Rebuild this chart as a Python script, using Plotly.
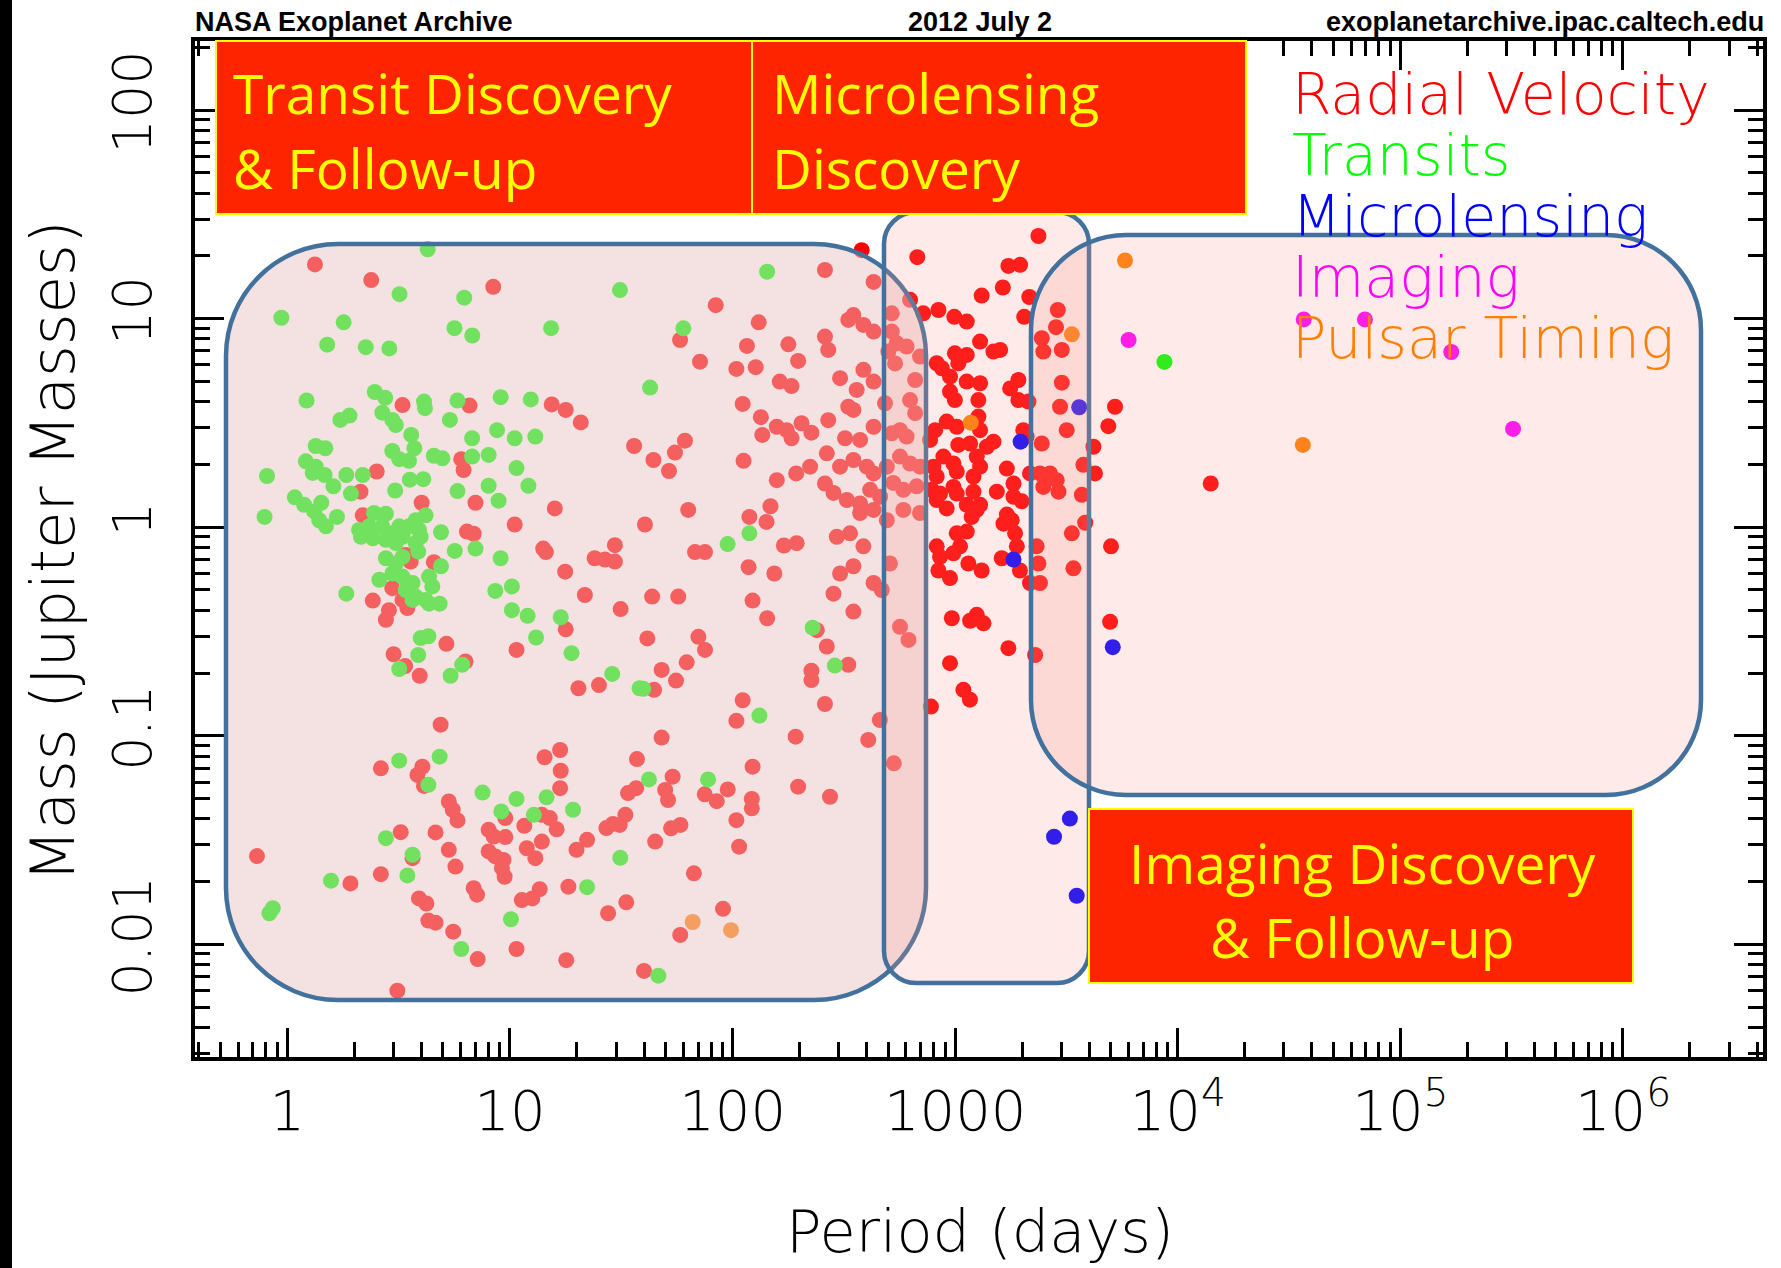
import plotly.graph_objects as go

# Exoplanet mass vs. orbital period by discovery method
# (period in days, mass in Jupiter masses)
rv_points = [
    (1.33, 18.2), (2.38, 15.3), (8.41, 14.2),
    (3.29, 3.85), (6.58, 3.83), (15.4, 3.88), (17.8, 3.65), (20.8, 3.18), (6.04, 2.12), (6.19, 1.88),
    (2.52, 1.85), (2.13, 1.48), (4.01, 1.31), (7.0, 1.31), (15.9, 1.23), (10.5, 1.03), (2.18, 1.14),
    (6.41, 0.953), (6.87, 0.93), (14.1, 0.79), (14.5, 0.76), (24.0, 0.71), (26.7, 0.70), (29.6, 0.684),
    (29.6, 0.82), (3.40, 0.736), (3.58, 0.684), (4.55, 0.68), (17.7, 0.612), (36.1, 2.45), (2.96, 0.51),
    (3.29, 0.448), (3.46, 0.41), (2.42, 0.445), (2.86, 0.40), (2.77, 0.36), (21.7, 0.473), (31.4, 0.405),
    (17.8, 0.324), (5.18, 0.276), (3.0, 0.246), (3.38, 0.216), (3.93, 0.194), (6.31, 0.227), (10.7, 0.258),
    (20.3, 0.169), (25.1, 0.175),
    (4.88, 0.113), (2.63, 0.0698), (4.04, 0.0711), (3.84, 0.0649), (4.11, 0.0575), (5.31, 0.0484),
    (5.53, 0.0442), (5.81, 0.0393), (3.23, 0.0345), (4.63, 0.0344), (5.31, 0.0284), (5.69, 0.0236),
    (3.65, 0.0259), (2.63, 0.0217), (1.92, 0.0196), (0.73, 0.0265), (3.90, 0.0166), (4.21, 0.0157),
    (4.30, 0.0130), (4.63, 0.0127), (5.56, 0.0115), (7.16, 0.0085), (3.12, 0.0060), (8.02, 0.0354),
    (8.45, 0.0329), (9.53, 0.0327), (9.53, 0.0403), (8.02, 0.0279), (8.59, 0.0264), (9.35, 0.0254),
    (9.20, 0.0232), (9.46, 0.0211), (6.87, 0.0186), (7.11, 0.0173), (11.6, 0.0370), (13.9, 0.0418),
    (15.1, 0.0403), (16.2, 0.0356), (14.3, 0.0789), (16.8, 0.0855), (16.9, 0.068), (16.8, 0.0561),
    (11.9, 0.0289), (13.0, 0.0259), (13.9, 0.0311), (13.6, 0.0184), (12.6, 0.0166), (11.3, 0.0163),
    (10.7, 0.0095), (18.3, 0.0189), (17.9, 0.0084), (19.9, 0.0284), (22.2, 0.0317), (27.1, 0.0361),
    (29.0, 0.0378), (31.1, 0.0374), (33.0, 0.0418), (33.9, 0.0531), (36.9, 0.0561), (37.2, 0.0773),
    (27.6, 0.0141), (33.3, 0.0159),
    (84, 11.6), (58.1, 7.9), (71.4, 6.22), (116, 7.4), (131, 9.6), (104, 5.74), (127, 5.85), (178, 7.53),
    (197, 6.27), (163, 4.99), (184, 4.75), (111, 3.90), (134, 3.37), (136, 2.77), (158, 3.03), (175, 2.92),
    (184, 2.67), (204, 3.15), (226, 2.84), (61.1, 2.60), (55.1, 2.28), (44.1, 2.10), (51.8, 1.86),
    (112, 2.08), (158, 1.68), (193, 1.81), (223, 1.95), (63.2, 1.21), (40.4, 1.03), (119, 1.12),
    (142, 1.06), (148, 1.26), (67.8, 0.76), (75.2, 0.76), (170, 0.817), (194, 0.838), (118, 0.643),
    (154, 0.60), (43.5, 0.465), (57.0, 0.465), (123, 0.445), (143, 0.366), (41.4, 0.293), (70.2, 0.298),
    (75.2, 0.258), (62.2, 0.225), (48, 0.207), (55.7, 0.184), (44.4, 0.166), (111, 0.148), (104, 0.118),
    (48, 0.098), (192, 0.099), (239, 0.321), (226, 0.205), (226, 0.185), (260, 0.142), (459, 0.119),
    (407, 0.0955),
    (380, 21.3), (260, 17.1), (430, 15.0), (627, 12.3), (719, 10.6), (519, 10.6), (349, 10.4), (387, 9.33),
    (430, 8.67), (331, 9.86), (260, 8.2), (269, 7.08), (519, 8.67), (546, 7.62), (605, 7.35), (501, 6.95),
    (537, 6.1), (387, 5.68), (430, 4.99), (304, 5.18), (361, 4.55), (661, 5.08), (695, 6.58), (331, 3.78),
    (349, 3.65), (484, 3.93), (627, 4.07), (661, 3.52), (269, 3.26), (430, 3.03), (519, 2.82), (565, 2.92),
    (605, 2.72), (320, 2.67), (374, 2.62), (265, 2.26), (304, 1.95), (349, 2.10), (401, 1.95), (430, 1.81),
    (493, 1.95), (565, 2.18), (627, 2.02), (695, 1.95), (260, 1.62), (284, 1.46), (326, 1.35), (374, 1.30),
    (415, 1.51), (460, 1.40), (527, 1.63), (585, 1.51), (671, 1.57), (374, 1.17), (430, 1.21), (493, 1.08),
    (585, 1.21), (695, 1.17), (294, 0.90), (337, 0.935), (387, 0.81), (509, 0.67), (304, 0.60), (349, 0.65),
    (430, 0.54), (468, 0.50), (284, 0.48), (349, 0.394), (565, 0.333), (617, 0.288), (265, 0.268),
    (331, 0.219),
    (676, 19.7), (2366, 24.9), (1734, 17.9), (1958, 18.1), (1637, 14.1), (1315, 12.9), (2153, 12.7),
    (841, 11.0), (991, 10.2), (1127, 9.68), (2042, 10.2), (2891, 11.0), (2838, 9.1), (1294, 7.76),
    (1486, 6.95), (1592, 7.08), (2489, 6.95), (3013, 7.08), (2449, 8.05), (826, 6.11), (871, 5.78),
    (997, 6.82), (1127, 6.70), (1033, 6.11), (948, 5.27), (1127, 4.99), (1294, 4.90), (1923, 5.08),
    (1766, 4.63), (948, 4.47), (997, 4.07), (1271, 4.07), (1923, 4.07), (2133, 4.0), (3013, 4.93),
    (2958, 3.78), (5224, 3.78), (4875, 3.05), (3170, 2.92), (916, 3.21), (1016, 3.03), (1271, 3.39),
    (1294, 2.92), (1167, 2.52), (1033, 2.48), (771, 2.62), (813, 2.92), (1486, 2.57), (1387, 2.43),
    (2023, 2.92), (2094, 2.72), (2449, 2.52), (885, 2.18), (982, 2.02), (1016, 1.85), (798, 1.95),
    (826, 1.75), (1250, 2.18), (1294, 1.95), (1208, 1.75), (1706, 1.91), (1828, 1.62), (2168, 1.81),
    (2404, 1.81), (2667, 1.81), (2858, 1.68), (2489, 1.56), (2911, 1.48), (3767, 1.99), (4246, 1.81),
    (4178, 2.43), (3707, 1.43), (1538, 1.48), (785, 1.51), (855, 1.45), (982, 1.56), (1016, 1.45),
    (1208, 1.48), (826, 1.35), (916, 1.23), (1127, 1.28), (1250, 1.21), (1294, 1.28), (1186, 1.12),
    (1828, 1.40), (1991, 1.33), (1706, 1.15), (1795, 1.08), (1648, 1.04), (1858, 0.935), (1892, 0.81),
    (1016, 0.935), (1127, 0.953), (1052, 0.81), (982, 0.75), (826, 0.81), (855, 0.72), (1146, 0.67),
    (1315, 0.62), (841, 0.62), (948, 0.57), (1618, 0.71), (1954, 0.62), (2323, 0.81), (2366, 0.67),
    (2404, 0.54), (2168, 0.54), (3342, 0.935), (3396, 0.635), (3837, 1.05), (5012, 0.81), (14060, 1.62),
    (966, 0.366), (1167, 0.356), (1340, 0.346), (1250, 0.38), (1734, 0.263), (2286, 0.244), (948, 0.223),
    (1089, 0.166), (1165, 0.149), (778, 0.138), (4966, 0.352),
    (53.8, 0.0637), (49.8, 0.055), (51.3, 0.0492), (75, 0.0524), (84.9, 0.0486), (95.1, 0.0553),
    (123, 0.0711), (122, 0.0498), (122, 0.0449), (104, 0.0394), (107, 0.0294), (197, 0.057), (274, 0.051),
    (530, 0.0738), (67, 0.0219), (90.6, 0.0148), (58.2, 0.0111), (40, 0.00746), (52.9, 0.0360),
    (58.3, 0.0374), (44.9, 0.0311),
]

transit_points = [
    (4.27, 21.5), (3.19, 13.1), (6.23, 12.6), (31.2, 13.7), (0.94, 10.1), (1.79, 9.6), (5.63, 9.0),
    (6.77, 8.3), (15.3, 9.0), (1.51, 7.5), (2.25, 7.3), (2.87, 7.2),
    (1.22, 4.05), (2.47, 4.45), (2.75, 4.17), (2.67, 3.54), (2.96, 3.27), (3.07, 3.09), (4.11, 4.0),
    (4.15, 3.72), (5.81, 4.05), (9.08, 4.2), (12.4, 4.1), (5.37, 3.27), (1.73, 3.27), (1.90, 3.43),
    (3.60, 2.77), (3.72, 2.39), (6.76, 2.67), (8.75, 2.92), (10.5, 2.67), (13.0, 2.72), (1.34, 2.45),
    (1.48, 2.39), (1.21, 2.07), (1.34, 1.95), (1.30, 1.82), (1.47, 1.78), (1.61, 1.57), (2.96, 2.32),
    (3.18, 2.12), (3.52, 2.08), (4.55, 2.20), (4.97, 2.14), (6.76, 2.18), (8.02, 2.22), (10.7, 1.92),
    (0.81, 1.76), (1.84, 1.78), (2.18, 1.78), (1.93, 1.45), (3.55, 1.69), (4.08, 1.70), (3.05, 1.50),
    (5.81, 1.49), (8.02, 1.58), (12.1, 1.58), (8.89, 1.34), (1.08, 1.39), (1.19, 1.28), (1.32, 1.19),
    (1.42, 1.31), (1.39, 1.08), (1.49, 1.01), (1.67, 1.12), (0.79, 1.12), (2.45, 1.17), (2.77, 1.16),
    (4.18, 1.14), (3.77, 1.08), (2.10, 0.97), (2.14, 0.90), (2.42, 0.885), (2.33, 1.01), (2.67, 1.01),
    (2.86, 0.935), (3.18, 1.01), (3.52, 1.01), (3.90, 0.97), (3.97, 0.90), (3.77, 0.84), (3.07, 0.84),
    (2.77, 0.87), (3.29, 0.90), (4.90, 0.946), (3.87, 0.764), (2.77, 0.71), (3.07, 0.67), (3.29, 0.72),
    (5.65, 0.77), (7.0, 0.79), (9.08, 0.71), (4.90, 0.65), (2.59, 0.56), (2.96, 0.60), (3.29, 0.58),
    (3.65, 0.54), (4.33, 0.58), (4.48, 0.52), (3.40, 0.50), (3.77, 0.465), (4.18, 0.448), (4.33, 0.43),
    (4.83, 0.43), (3.65, 0.448), (1.84, 0.48), (8.59, 0.495), (10.2, 0.52), (10.2, 0.40), (12.0, 0.376),
    (16.9, 0.37), (13.1, 0.296), (3.97, 0.294), (4.30, 0.30), (3.87, 0.244), (3.18, 0.209), (6.10, 0.219),
    (5.41, 0.194), (18.9, 0.249), (28.8, 0.198), (38.2, 0.169),
    (3.18, 0.076), (4.83, 0.0794), (4.30, 0.0582), (7.53, 0.0534), (10.7, 0.0498), (14.6, 0.0507),
    (9.14, 0.0434), (12.8, 0.0418), (19.2, 0.0442), (2.77, 0.0323), (3.65, 0.0269), (3.46, 0.0214),
    (1.57, 0.0202), (0.83, 0.0141), (0.86, 0.0149), (10.1, 0.0132), (6.04, 0.0095), (22.2, 0.0188),
    (31.3, 0.026),
    (143, 16.8), (60.1, 8.98), (42.6, 4.67), (119, 0.935), (95, 0.83), (229, 0.33), (132, 0.125),
    (39.7, 0.168), (42.1, 0.0618), (77.6, 0.0618), (46.4, 0.00708), (288, 0.217), (8710, 6.2),
]

microlensing_points = [
    (3606, 3.76), (1968, 2.57), (1828, 0.70), (5105, 0.266), (3275, 0.0401), (2780, 0.0328), (3515, 0.0171),
]

imaging_points = [
    (6010, 7.9), (36800, 9.91), (69300, 9.91), (169200, 6.92), (320700, 2.96),
]

pulsar_points = [
    (5794, 19.0), (3342, 8.41), (1175, 3.17), (36450, 2.48), (66.2, 0.0128), (98.4, 0.0117),
]

method_names = ["Radial Velocity", "Transits", "Microlensing", "Imaging", "Pulsar Timing"]
method_colors = ["#FF0000", "#00FF00", "#0000FF", "#FF00FF", "#FF7F00"]

period_tickvals = [1, 10, 100, 1000, 1e4, 1e5, 1e6]
period_ticktext = ["1", "10", "100", "1000", "10<sup>4</sup>", "10<sup>5</sup>", "10<sup>6</sup>"]
mass_tickvals = [0.01, 0.1, 1, 10, 100]
mass_ticktext = ["0.01", "0.1", "1", "10", "100"]

# ---------------------------------------------------------------------------
FIG_W, FIG_H = 1781, 1268
L, R, T, B = 195, 1763, 41, 1057          # plot-area edges in pixels
PW, PH = R - L, B - T

def px(x):
    return (x - L) / PW

def py(y):
    return (B - y) / PH

HERSHEY = "DejaVu Sans, sans-serif"
THIN = 200
CALIBRI = "Open Sans, Noto Sans, sans-serif"

fig = go.Figure()

series = [rv_points, transit_points, microlensing_points, imaging_points, pulsar_points]
for name, color, pts in zip(method_names, method_colors, series):
    fig.add_trace(go.Scatter(
        x=[p for p, m in pts], y=[m for p, m in pts],
        mode="markers", name=name,
        marker=dict(color=color, size=16, line=dict(width=0)),
        showlegend=False, hoverinfo="x+y+name",
    ))


def rounded_path(x0, y0, x1, y1, r):
    k = 0.5523 * r
    P = lambda x, y: f"{px(x):.5f},{py(y):.5f}"
    return (f"M {P(x0 + r, y0)} L {P(x1 - r, y0)} "
            f"C {P(x1 - r + k, y0)} {P(x1, y0 + r - k)} {P(x1, y0 + r)} "
            f"L {P(x1, y1 - r)} "
            f"C {P(x1, y1 - r + k)} {P(x1 - r + k, y1)} {P(x1 - r, y1)} "
            f"L {P(x0 + r, y1)} "
            f"C {P(x0 + r - k, y1)} {P(x0, y1 - r + k)} {P(x0, y1 - r)} "
            f"L {P(x0, y0 + r)} "
            f"C {P(x0, y0 + r - k)} {P(x0 + r - k, y0)} {P(x0 + r, y0)} Z")


OUTLINE = "#41719C"
shapes = [
    # dark strip at the left edge of the slide
    dict(type="rect", xref="paper", yref="paper", x0=px(0), x1=px(12), y0=py(FIG_H), y1=py(0),
         fillcolor="black", line=dict(width=0), layer="above"),
    # discovery-regime regions
    dict(type="path", xref="paper", yref="paper", path=rounded_path(226, 244, 926, 1000, 112),
         fillcolor="rgba(232,193,193,0.49)", line=dict(color=OUTLINE, width=4.5), layer="above"),
    dict(type="path", xref="paper", yref="paper", path=rounded_path(884, 212, 1089, 983, 32),
         fillcolor="rgba(248,150,140,0.2)", line=dict(color=OUTLINE, width=4.5), layer="above"),
    dict(type="path", xref="paper", yref="paper", path=rounded_path(1031, 235, 1701, 795, 95),
         fillcolor="rgba(248,150,140,0.2)", line=dict(color=OUTLINE, width=4.5), layer="above"),
]
for x0, y0, x1, y1 in [(216, 41, 752, 214), (752, 41, 1246, 214), (1089, 809, 1633, 983)]:
    shapes.append(dict(type="rect", xref="paper", yref="paper",
                       x0=px(x0), x1=px(x1), y0=py(y1), y1=py(y0),
                       fillcolor="#FF2400", line=dict(color="#FFFF00", width=2), layer="above"))

annotations = []

def note(text, x, y, size, color, family, xanchor="left", angle=0, weight=None):
    f = dict(family=family, size=size, color=color)
    if weight:
        f["weight"] = weight
    annotations.append(dict(text=text, x=px(x), y=py(y), xref="paper", yref="paper",
                            xanchor=xanchor, yanchor="middle", showarrow=False,
                            textangle=angle, font=f, borderpad=0))

# header line
HEAD = "Liberation Sans, Arial, sans-serif"
note("NASA Exoplanet Archive", 194, 22, 27, "black", HEAD, "left", weight="bold")
note("2012 July 2", 980, 22, 27, "black", HEAD, "center", weight="bold")
note("exoplanetarchive.ipac.caltech.edu", 1765, 22, 27, "black", HEAD, "right", weight="bold")

# method key
for i, (name, color) in enumerate(zip(method_names, method_colors)):
    note(name, 1291, 94 + i * 61, 57, color, HERSHEY, "left", weight=THIN)

# region labels
note("Transit Discovery", 232, 92, 55, "#FFFF00", CALIBRI, "left")
note("&amp; Follow-up", 232, 167, 55, "#FFFF00", CALIBRI, "left")
note("Microlensing", 771, 92, 55, "#FFFF00", CALIBRI, "left")
note("Discovery", 771, 167, 55, "#FFFF00", CALIBRI, "left")
note("Imaging Discovery", 1362, 862, 55, "#FFFF00", CALIBRI, "center")
note("&amp; Follow-up", 1362, 936, 55, "#FFFF00", CALIBRI, "center")

# axis titles
note("Period (days)", 980, 1231, 59, "black", HERSHEY, "center", weight=THIN)
note("Mass (Jupiter Masses)", 52, 551, 61, "black", HERSHEY, "center", angle=-90, weight=THIN)

axis_common = dict(
    type="log", showline=True, linecolor="black", linewidth=3.5, mirror="ticks",
    ticks="inside", ticklen=29, tickwidth=3, tickcolor="black",
    tickmode="array", showgrid=False, zeroline=False,
    minor=dict(ticks="inside", ticklen=15, tickwidth=2.5, tickcolor="black",
               dtick="D1", showgrid=False),
)

fig.update_layout(
    width=FIG_W, height=FIG_H,
    margin=dict(l=L, r=FIG_W - R, t=T, b=FIG_H - B, autoexpand=False),
    paper_bgcolor="white", plot_bgcolor="white",
    xaxis=dict(range=[-0.415, 6.629], tickvals=period_tickvals, ticktext=period_ticktext,
               tickfont=dict(family=HERSHEY, size=56, color="black", weight=THIN),
               ticklabelstandoff=2, **axis_common),
    yaxis=dict(range=[-2.540, 2.331], tickvals=mass_tickvals, ticktext=mass_ticktext,
               tickangle=-90, tickfont=dict(family=HERSHEY, size=54, color="black", weight=THIN),
               ticklabelstandoff=19, **axis_common),
    shapes=shapes, annotations=annotations,
)

fig.write_html("out.html")
